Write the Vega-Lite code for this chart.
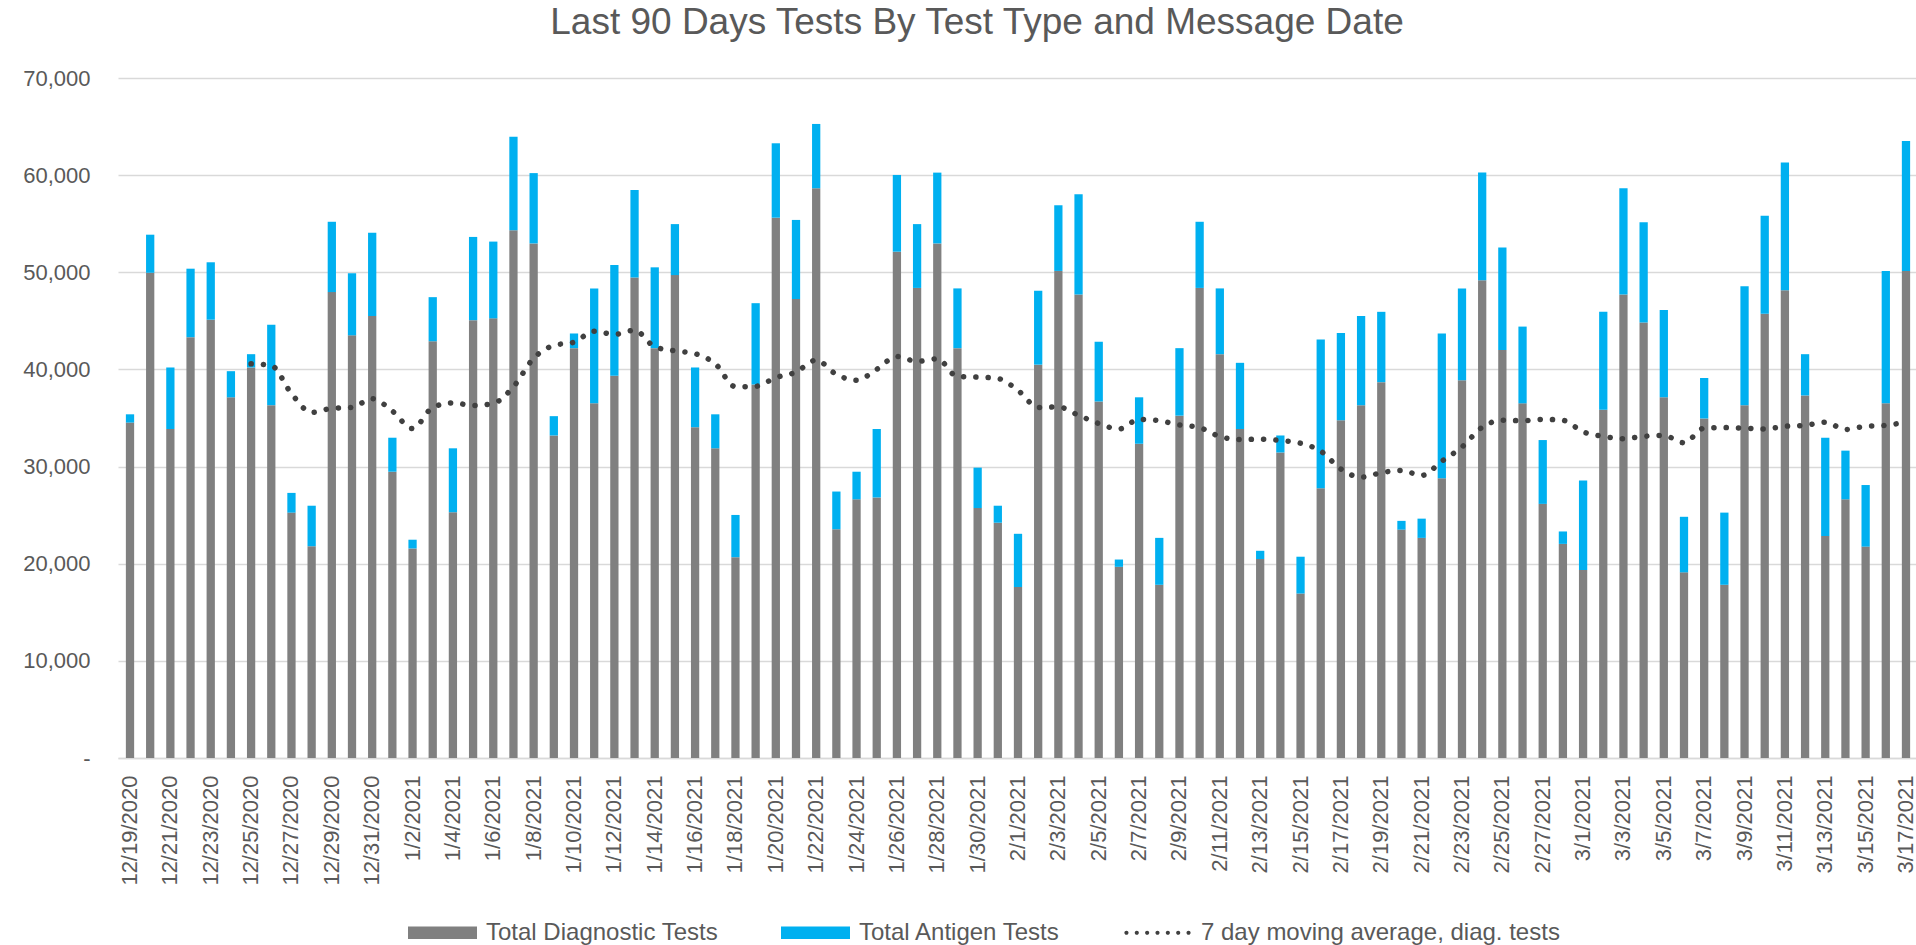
{
  "$schema": "https://vega.github.io/schema/vega-lite/v6.json",
  "autosize": "none",
  "width": 1800,
  "height": 680,
  "padding": {"left": 118, "top": 78, "right": 0, "bottom": 187},
  "background": "white",
  "title": {
    "text": "Last 90 Days Tests By Test Type and Message Date",
    "font": "Liberation Sans",
    "fontSize": 37,
    "fontWeight": "normal",
    "color": "#595959",
    "anchor": "middle",
    "baseline": "alphabetic",
    "dx": -41,
    "dy": 33,
    "offset": 29
  },
  "config": {
    "view": {"stroke": null},
    "axis": {"labelFont": "Liberation Sans", "labelColor": "#595959", "titleFont": "Liberation Sans"}
  },
  "data": {
    "values": [
      {"date": "12/19/2020", "diag": 34530, "total": 35380, "ma": null},
      {"date": "12/20/2020", "diag": 49950, "total": 53870, "ma": null},
      {"date": "12/21/2020", "diag": 33870, "total": 40200, "ma": null},
      {"date": "12/22/2020", "diag": 43320, "total": 50370, "ma": null},
      {"date": "12/23/2020", "diag": 45120, "total": 51030, "ma": null},
      {"date": "12/24/2020", "diag": 37130, "total": 39820, "ma": null},
      {"date": "12/25/2020", "diag": 40200, "total": 41570, "ma": 40580},
      {"date": "12/26/2020", "diag": 36320, "total": 44600, "ma": 40400},
      {"date": "12/27/2020", "diag": 25260, "total": 27290, "ma": 37510},
      {"date": "12/28/2020", "diag": 21800, "total": 25970, "ma": 35570},
      {"date": "12/29/2020", "diag": 47960, "total": 55200, "ma": 35990},
      {"date": "12/30/2020", "diag": 43510, "total": 49900, "ma": 36090},
      {"date": "12/31/2020", "diag": 45500, "total": 54060, "ma": 36990},
      {"date": "1/1/2021", "diag": 29470, "total": 32970, "ma": 35710},
      {"date": "1/2/2021", "diag": 21570, "total": 22470, "ma": 33910},
      {"date": "1/3/2021", "diag": 42900, "total": 47440, "ma": 36090},
      {"date": "1/4/2021", "diag": 25300, "total": 31880, "ma": 36560},
      {"date": "1/5/2021", "diag": 45070, "total": 53640, "ma": 36280},
      {"date": "1/6/2021", "diag": 45260, "total": 53160, "ma": 36510},
      {"date": "1/7/2021", "diag": 54340, "total": 63950, "ma": 38220},
      {"date": "1/8/2021", "diag": 52970, "total": 60210, "ma": 41150},
      {"date": "1/9/2021", "diag": 33200, "total": 35190, "ma": 42470},
      {"date": "1/10/2021", "diag": 42190, "total": 43700, "ma": 42800},
      {"date": "1/11/2021", "diag": 36510, "total": 48340, "ma": 43940},
      {"date": "1/12/2021", "diag": 39350, "total": 50750, "ma": 43610},
      {"date": "1/13/2021", "diag": 49470, "total": 58460, "ma": 44030},
      {"date": "1/14/2021", "diag": 42190, "total": 50510, "ma": 42330},
      {"date": "1/15/2021", "diag": 49710, "total": 54960, "ma": 41910},
      {"date": "1/16/2021", "diag": 34050, "total": 40200, "ma": 41620},
      {"date": "1/17/2021", "diag": 31880, "total": 35380, "ma": 40580},
      {"date": "1/18/2021", "diag": 20670, "total": 25020, "ma": 38220},
      {"date": "1/19/2021", "diag": 38450, "total": 46820, "ma": 38260},
      {"date": "1/20/2021", "diag": 55620, "total": 63280, "ma": 39160},
      {"date": "1/21/2021", "diag": 47250, "total": 55390, "ma": 39730},
      {"date": "1/22/2021", "diag": 58650, "total": 65270, "ma": 40960},
      {"date": "1/23/2021", "diag": 23550, "total": 27430, "ma": 39490},
      {"date": "1/24/2021", "diag": 26630, "total": 29470, "ma": 38880},
      {"date": "1/25/2021", "diag": 26820, "total": 33870, "ma": 40010},
      {"date": "1/26/2021", "diag": 52120, "total": 60020, "ma": 41340},
      {"date": "1/27/2021", "diag": 48390, "total": 54960, "ma": 40820},
      {"date": "1/28/2021", "diag": 52970, "total": 60260, "ma": 41100},
      {"date": "1/29/2021", "diag": 42190, "total": 48340, "ma": 39260},
      {"date": "1/30/2021", "diag": 25730, "total": 29890, "ma": 39210},
      {"date": "1/31/2021", "diag": 24220, "total": 25970, "ma": 39070},
      {"date": "2/1/2021", "diag": 17600, "total": 23080, "ma": 37840},
      {"date": "2/2/2021", "diag": 40490, "total": 48100, "ma": 36090},
      {"date": "2/3/2021", "diag": 50140, "total": 56900, "ma": 36140},
      {"date": "2/4/2021", "diag": 47720, "total": 58030, "ma": 35280},
      {"date": "2/5/2021", "diag": 36700, "total": 42850, "ma": 34430},
      {"date": "2/6/2021", "diag": 19680, "total": 20430, "ma": 33870},
      {"date": "2/7/2021", "diag": 32350, "total": 37130, "ma": 34860},
      {"date": "2/8/2021", "diag": 17830, "total": 22660, "ma": 34720},
      {"date": "2/9/2021", "diag": 35240, "total": 42190, "ma": 34290},
      {"date": "2/10/2021", "diag": 48390, "total": 55200, "ma": 34010},
      {"date": "2/11/2021", "diag": 41570, "total": 48340, "ma": 33100},
      {"date": "2/12/2021", "diag": 33870, "total": 40680, "ma": 32780},
      {"date": "2/13/2021", "diag": 20480, "total": 21330, "ma": 32820},
      {"date": "2/14/2021", "diag": 31450, "total": 33200, "ma": 32680},
      {"date": "2/15/2021", "diag": 16930, "total": 20720, "ma": 32400},
      {"date": "2/16/2021", "diag": 27760, "total": 43090, "ma": 31590},
      {"date": "2/17/2021", "diag": 34760, "total": 43750, "ma": 29750},
      {"date": "2/18/2021", "diag": 36320, "total": 45500, "ma": 28900},
      {"date": "2/19/2021", "diag": 38690, "total": 45930, "ma": 29370},
      {"date": "2/20/2021", "diag": 23510, "total": 24410, "ma": 29610},
      {"date": "2/21/2021", "diag": 22660, "total": 24640, "ma": 29090},
      {"date": "2/22/2021", "diag": 28800, "total": 43700, "ma": 30550},
      {"date": "2/23/2021", "diag": 38880, "total": 48340, "ma": 32020},
      {"date": "2/24/2021", "diag": 49190, "total": 60260, "ma": 34050},
      {"date": "2/25/2021", "diag": 42000, "total": 52550, "ma": 34760},
      {"date": "2/26/2021", "diag": 36510, "total": 44410, "ma": 34720},
      {"date": "2/27/2021", "diag": 26160, "total": 32730, "ma": 34860},
      {"date": "2/28/2021", "diag": 22040, "total": 23320, "ma": 34760},
      {"date": "3/1/2021", "diag": 19350, "total": 28570, "ma": 33580},
      {"date": "3/2/2021", "diag": 35850, "total": 45930, "ma": 33110},
      {"date": "3/3/2021", "diag": 47720, "total": 58650, "ma": 32870},
      {"date": "3/4/2021", "diag": 44840, "total": 55150, "ma": 33110},
      {"date": "3/5/2021", "diag": 37130, "total": 46120, "ma": 33200},
      {"date": "3/6/2021", "diag": 19110, "total": 24830, "ma": 32450},
      {"date": "3/7/2021", "diag": 34950, "total": 39120, "ma": 33960},
      {"date": "3/8/2021", "diag": 17830, "total": 25260, "ma": 34010},
      {"date": "3/9/2021", "diag": 36320, "total": 48570, "ma": 33960},
      {"date": "3/10/2021", "diag": 45740, "total": 55810, "ma": 33870},
      {"date": "3/11/2021", "diag": 48150, "total": 61300, "ma": 34150},
      {"date": "3/12/2021", "diag": 37320, "total": 41570, "ma": 34240},
      {"date": "3/13/2021", "diag": 22850, "total": 32970, "ma": 34570},
      {"date": "3/14/2021", "diag": 26630, "total": 31640, "ma": 33820},
      {"date": "3/15/2021", "diag": 21760, "total": 28100, "ma": 34150},
      {"date": "3/16/2021", "diag": 36510, "total": 50140, "ma": 34240},
      {"date": "3/17/2021", "diag": 50140, "total": 63520, "ma": 34620}
    ]
  },
  "encoding": {
    "x": {
      "field": "date",
      "type": "ordinal",
      "sort": null,
      "scale": {"paddingInner": 0.59, "paddingOuter": 0.39},
      "axis": {
        "title": null,
        "labelAngle": -90,
        "labelAlign": "right",
        "labelBaseline": "middle",
        "labelFontSize": 22,
        "labelPadding": 17,
        "ticks": false,
        "grid": false,
        "domainColor": "#d9d9d9",
        "domainWidth": 1.5,
        "labelOverlap": false,
        "values": ["12/19/2020","12/21/2020","12/23/2020","12/25/2020","12/27/2020","12/29/2020","12/31/2020","1/2/2021","1/4/2021","1/6/2021","1/8/2021","1/10/2021","1/12/2021","1/14/2021","1/16/2021","1/18/2021","1/20/2021","1/22/2021","1/24/2021","1/26/2021","1/28/2021","1/30/2021","2/1/2021","2/3/2021","2/5/2021","2/7/2021","2/9/2021","2/11/2021","2/13/2021","2/15/2021","2/17/2021","2/19/2021","2/21/2021","2/23/2021","2/25/2021","2/27/2021","3/1/2021","3/3/2021","3/5/2021","3/7/2021","3/9/2021","3/11/2021","3/13/2021","3/15/2021","3/17/2021"]
      }
    }
  },
  "layer": [
    {
      "mark": {"type": "bar"},
      "encoding": {
        "y": {
          "field": "diag",
          "type": "quantitative",
          "scale": {"domain": [0, 70000], "nice": false},
          "axis": {
            "title": null,
            "values": [0, 10000, 20000, 30000, 40000, 50000, 60000, 70000],
            "labelExpr": "datum.value == 0 ? '-\u00a0\u00a0' : format(datum.value, ',')",
            "labelFontSize": 22,
            "labelPadding": 28,
            "ticks": false,
            "domain": false,
            "gridColor": "#d9d9d9",
            "gridWidth": 1.3
          }
        },
        "color": {
          "datum": "Total Diagnostic Tests",
          "type": "nominal",
          "scale": {
            "domain": ["Total Diagnostic Tests", "Total Antigen Tests", "7 day moving average, diag. tests"],
            "range": ["#808080", "#00B0F0", "#404040"]
          },
          "legend": {
            "title": null,
            "orient": "none",
            "direction": "horizontal",
            "legendX": 290,
            "legendY": 820,
            "padding": 0,
            "symbolSize": 4761,
            "symbolType": "M-1,-0.18H1V0.18H-1Z",
            "labelFont": "Liberation Sans",
            "labelFontSize": 24,
            "labelColor": "#595959",
            "labelOffset": 9,
            "columnPadding": 62,
            "labelLimit": 500,
            "encode": {
              "symbols": {
                "update": {
                  "shape": {"signal": "datum.value === '7 day moving average, diag. tests' ? 'M-0.96,0a0.06,0.06 0 1,0 0.12,0a0.06,0.06 0 1,0 -0.12,0M-0.66,0a0.06,0.06 0 1,0 0.12,0a0.06,0.06 0 1,0 -0.12,0M-0.36,0a0.06,0.06 0 1,0 0.12,0a0.06,0.06 0 1,0 -0.12,0M-0.06,0a0.06,0.06 0 1,0 0.12,0a0.06,0.06 0 1,0 -0.12,0M0.24,0a0.06,0.06 0 1,0 0.12,0a0.06,0.06 0 1,0 -0.12,0M0.54,0a0.06,0.06 0 1,0 0.12,0a0.06,0.06 0 1,0 -0.12,0M0.84,0a0.06,0.06 0 1,0 0.12,0a0.06,0.06 0 1,0 -0.12,0' : 'M-1,-0.18H1V0.18H-1Z'"},
                  "fill": {"signal": "scale('color', datum.value)"},
                  "fillOpacity": {"value": 1},
                  "opacity": {"value": 1},
                  "stroke": {"value": "transparent"},
                  "strokeWidth": {"value": 0},
                  "strokeDash": {"value": []}
                }
              }
            }
          }
        }
      }
    },
    {
      "mark": {"type": "bar"},
      "encoding": {
        "y": {"field": "diag", "type": "quantitative"},
        "y2": {"field": "total"},
        "color": {"datum": "Total Antigen Tests", "type": "nominal"}
      }
    },
    {
      "mark": {"type": "line", "strokeWidth": 5.5, "strokeDash": [0.1, 12.2], "strokeCap": "round", "interpolate": "monotone"},
      "encoding": {
        "y": {"field": "ma", "type": "quantitative"},
        "color": {"datum": "7 day moving average, diag. tests", "type": "nominal"}
      }
    }
  ]
}
